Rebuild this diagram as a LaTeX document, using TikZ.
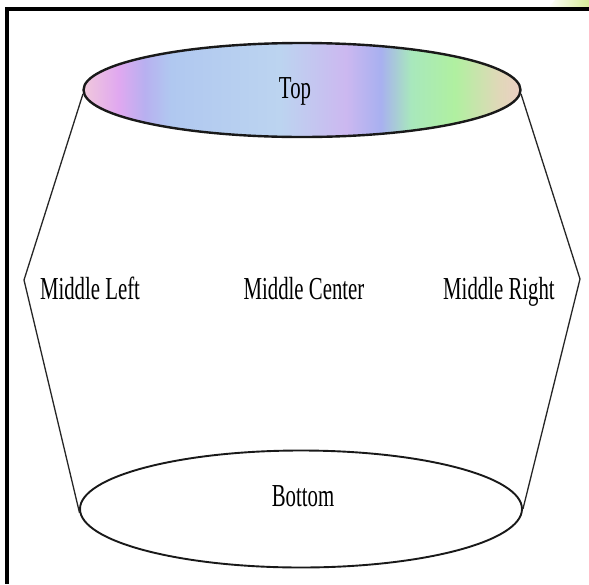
\documentclass[tikz,border=0pt]{standalone}
\usepackage{fontspec}
\setmainfont{Liberation Serif}
\usetikzlibrary{shapes.geometric,fadings}
\definecolor{c0}{HTML}{F0C8DC}
\definecolor{c1}{HTML}{E0A8F0}
\definecolor{c2}{HTML}{B8B0F0}
\definecolor{c3}{HTML}{B0C8F0}
\definecolor{c4}{HTML}{BCD4F0}
\definecolor{c5}{HTML}{CCB8F0}
\definecolor{c6}{HTML}{A8B0F0}
\definecolor{c7}{HTML}{A8E8BC}
\definecolor{c8}{HTML}{B0F0A0}
\definecolor{c9}{HTML}{E0D8B8}
\definecolor{c10}{HTML}{ECCFC4}
\definecolor{corner}{HTML}{D8EC98}
\pgfdeclarehorizontalshading{topshade}{100bp}{%
  color(0bp)=(c0); color(25bp)=(c0); color(29bp)=(c1); color(32bp)=(c2); color(35bp)=(c3);
  color(47.5bp)=(c4); color(55bp)=(c5); color(59bp)=(c6); color(62.5bp)=(c7);
  color(67.5bp)=(c8); color(72.5bp)=(c9); color(75bp)=(c10); color(100bp)=(c10)}
\newcommand{\cond}[1]{\scalebox{0.65}[1]{#1}}
\begin{document}
\begin{tikzpicture}[x=1pt,y=-1pt,
  lbl/.style={font=\fontsize{32}{32}\selectfont, inner sep=0pt, anchor=base, text=black},
  disc/.style={ellipse, draw=black!90, inner sep=0pt},
  side/.style={draw=black!85, line width=1.3pt}]
\useasboundingbox (0,0) rectangle (589,584);
\fill[white] (0,0) rectangle (589,584);
% corner tint
\fill[corner, path fading=west] (555,0) -- (589,0) -- (589,8) -- (548,8) -- cycle;
% frame
\fill[black] (5,7) rectangle (589,11);
\fill[black] (5,7) rectangle (9,584);
% discs
\node[disc, line width=2.4pt, shading=topshade, minimum width=437pt, minimum height=94pt] (top) at (302,90) {};
\node[disc, line width=1.9pt, fill=white, minimum width=442pt, minimum height=117pt] (bottom) at (301,509) {};
% side connectors
\coordinate (lv) at (24,280);
\coordinate (rv) at (580,279);
\path[side] (top.181.5) -- (lv) -- (bottom.181.5);
\path[side] (top.-1.5) -- (rv) -- (bottom.0);
% labels
\node[lbl] (toplbl) at (295,98) {\cond{Top}};
\node[lbl] (ml) at (90,299) {\cond{Middle Left}};
\node[lbl] (mc) at (304,299) {\cond{Middle Center}};
\node[lbl] (mr) at (499,299) {\cond{Middle Right}};
\node[lbl] (botlbl) at (303,506) {\cond{Bottom}};
\end{tikzpicture}
\end{document}
